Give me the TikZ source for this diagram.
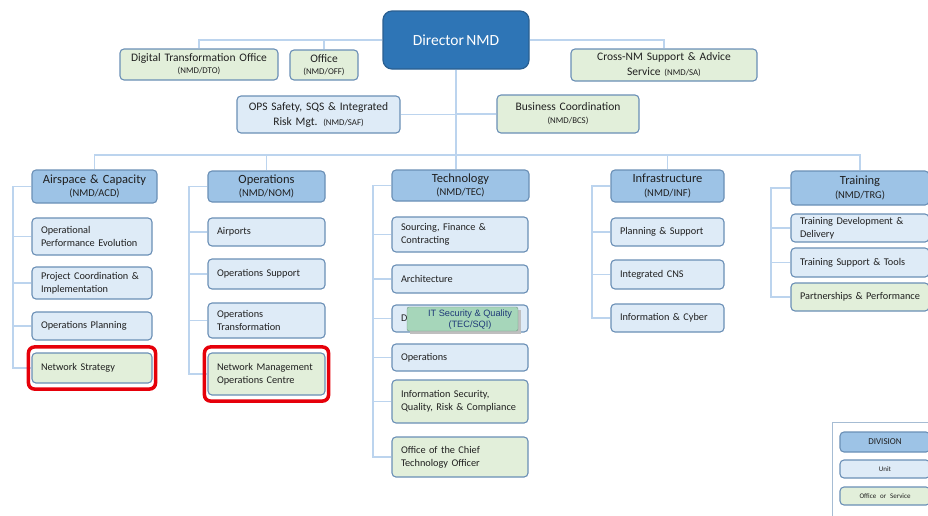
\documentclass[tikz,border=0pt]{standalone}
\usepackage{fontspec}
\setmainfont{Carlito}[WordSpace=0.7]
\newfontfamily\arialfont{Liberation Sans}
\usetikzlibrary{fit,backgrounds}

\definecolor{dirfill}{HTML}{2E75B6}
\definecolor{dirline}{HTML}{2A5F91}
\definecolor{divfill}{HTML}{9DC3E6}
\definecolor{unitfill}{HTML}{DEEBF7}
\definecolor{offfill}{HTML}{E2EFDA}
\definecolor{boxline}{HTML}{6A8FB6}
\definecolor{connline}{HTML}{BCD4EE}
\definecolor{hilite}{HTML}{E6000A}
\definecolor{sqifill}{HTML}{A6D6BA}
\definecolor{sqitext}{HTML}{1F3A78}
\definecolor{txt}{HTML}{202020}

% box from corner (x1,y1) to (x2,y2), in pixel-like units, y downwards
\newcommand\orgbox[7]{%
  \pgfmathsetmacro\obW{#5-#3}%
  \pgfmathsetmacro\obH{#6-#4}%
  \pgfmathsetmacro\obX{(#3+#5)/2}%
  \pgfmathsetmacro\obY{-(#4+#6)/2}%
  \pgfmathsetmacro\obT{#5-#3-18}%
  \node[#2, minimum width=\obW pt, minimum height=\obH pt, text width=\obT pt]
    (#1) at (\obX pt,\obY pt) {#7};}

\newcommand\subt[1]{{\fontsize{8.8}{10}\selectfont #1}}
\newcommand\divsub[1]{{\fontsize{10.5}{11.5}\selectfont #1}}

\tikzset{
  base/.style={draw=boxline, line width=1.1pt, rounded corners=4pt,
    inner sep=0pt, text=txt},
  division/.style={base, fill=divfill, align=center,
    font=\fontsize{12.5}{13.5}\selectfont},
  unit/.style={base, fill=unitfill, align=left,
    font=\fontsize{10.3}{13.3}\selectfont},
  officebox/.style={base, fill=offfill, align=left,
    font=\fontsize{10.3}{13.3}\selectfont},
  unitc/.style={unit, align=center, font=\fontsize{11.5}{15}\selectfont},
  officec/.style={officebox, align=center, font=\fontsize{11.5}{15}\selectfont},
  conn/.style={draw=connline, line width=1.6pt},
  hl/.style={draw=hilite, line width=3.5pt, rounded corners=6pt,
    inner xsep=3pt, inner ysep=5.5pt},
}

\begin{document}
\begin{tikzpicture}[x=1pt, y=1pt]
\useasboundingbox (0,0) rectangle (928,-515);

% ---------- director and staff offices ----------
\node[draw=dirline, fill=dirfill, line width=1.2pt, rounded corners=9pt,
  minimum width=146pt, minimum height=58pt, text=white,
  font=\fontsize{15.5}{17}\selectfont] (dir) at (456,-40) {Director NMD};

\orgbox{dto}{officec}{120}{49}{278}{80}{Digital Transformation Office\\[-3pt]\subt{(NMD/DTO)}}
\orgbox{off}{officec}{290}{50}{358}{80}{Office\\[-3pt]\subt{(NMD/OFF)}}
\orgbox{sa}{officec}{571}{49}{757}{81}{Cross-NM Support \& Advice\\Service \subt{(NMD/SA)}}
\orgbox{saf}{unitc}{237}{96}{400}{133}{OPS Safety, SQS \& Integrated\\Risk Mgt. \subt{(NMD/SAF)}}
\orgbox{bcs}{officec}{497}{95}{639}{133}{Business Coordination\\[-2pt]\subt{(NMD/BCS)}}

% ---------- divisions ----------
\orgbox{acd}{division}{32}{170}{157}{203}{Airspace \& Capacity\\\divsub{(NMD/ACD)}}
\orgbox{nom}{division}{208}{171}{325}{202}{Operations\\\divsub{(NMD/NOM)}}
\orgbox{tec}{division}{392}{170}{529}{201}{Technology\\\divsub{(NMD/TEC)}}
\orgbox{inf}{division}{611}{170}{724}{202}{Infrastructure\\\divsub{(NMD/INF)}}
\orgbox{trg}{division}{791}{171}{929}{205}{Training\\\divsub{(NMD/TRG)}}

% ---------- units: Airspace & Capacity ----------
\orgbox{acd1}{unit}{32}{218}{152}{255}{Operational\\Performance Evolution}
\orgbox{acd2}{unit}{32}{267}{152}{299}{Project Coordination \&\\Implementation}
\orgbox{acd3}{unit}{32}{312}{152}{340}{Operations Planning}
\orgbox{acd4}{officebox}{32}{353}{152}{383}{Network Strategy}

% ---------- units: Operations ----------
\orgbox{nom1}{unit}{208}{218}{325}{246}{Airports}
\orgbox{nom2}{unit}{208}{259}{325}{289}{Operations Support}
\orgbox{nom3}{unit}{208}{303}{325}{338}{Operations\\Transformation}
\orgbox{nom4}{officebox}{208}{353}{325}{395}{Network Management\\Operations Centre}

% ---------- units: Technology ----------
\orgbox{tec1}{unit}{392}{217}{528}{252}{Sourcing, Finance \&\\Contracting}
\orgbox{tec2}{unit}{392}{265}{528}{293}{Architecture}
\orgbox{tec3}{unit}{392}{305}{528}{332}{D}
\orgbox{tec4}{unit}{392}{344}{528}{371}{Operations}
\orgbox{tec5}{officebox}{392}{380}{528}{423}{Information Security,\\Quality, Risk \& Compliance}
\orgbox{tec6}{officebox}{392}{437}{528}{477}{Office of the Chief\\Technology Officer}

% pasted label over the third Technology unit
\fill[black!25] (410,-310) rectangle (521,-334);
\node[fill=sqifill, draw=sqifill!70!black, line width=0.4pt, rounded corners=2pt,
  minimum width=111pt, minimum height=24pt, inner sep=0pt] (sqi) at (462.5,-319) {};
\node[text=sqitext, align=center, inner sep=0pt,
  font=\arialfont\fontsize{9.2}{10.5}\selectfont] (sqil) at (470,-319.5)
  {IT Security \& Quality\\(TEC/SQI)};

% ---------- units: Infrastructure ----------
\orgbox{inf1}{unit}{611}{218}{724}{246}{Planning \& Support}
\orgbox{inf2}{unit}{611}{260}{724}{289}{Integrated CNS}
\orgbox{inf3}{unit}{611}{304}{724}{332}{Information \& Cyber}

% ---------- units: Training ----------
\orgbox{trg1}{unit}{791}{214}{929}{242}{Training Development \&\\Delivery}
\orgbox{trg2}{unit}{791}{248}{929}{277}{Training Support \& Tools}
\orgbox{trg3}{officebox}{791}{283}{929}{311}{Partnerships \& Performance}

% ---------- highlights ----------
\node[hl, fit=(acd4)] (hl1) {};
\node[hl, fit=(nom4)] (hl2) {};

% ---------- legend ----------
\node[draw=boxline!60, line width=1pt, minimum width=110pt, minimum height=100pt,
  inner sep=0pt] (leg) at (887,-472) {};
\orgbox{legdiv}{division}{840}{432}{930}{452}{\fontsize{9}{10}\selectfont DIVISION}
\orgbox{legunit}{unitc}{840}{460}{930}{478}{\fontsize{7}{8}\selectfont Unit}
\orgbox{legoff}{officec}{840}{487}{930}{505}{\fontsize{7}{8}\selectfont Office or Service}

% ---------- connectors (behind the boxes) ----------
\coordinate (bus) at (0,-155);
\coordinate (railacd) at (13,0);
\coordinate (railnom) at (189,0);
\coordinate (railtec) at (373,0);
\coordinate (railinf) at (592,0);
\coordinate (railtrg) at (771,0);
\begin{scope}[on background layer]
  \fill[white] (0,0) rectangle (928,-515);
  % staff offices on the director's line
  \draw[conn] (dto.north) |- (dir.west);
  \draw[conn] (off.north) -- (off.north |- dir.west);
  \draw[conn] (sa.north) |- (dir.east);
  \draw[conn] (dir.south) -- (dir.south |- tec.north);
  \draw[conn] (saf.east) -- (saf.east -| dir.south);
  \draw[conn] (bcs.west) -- (bcs.west -| dir.south);
  % division bus
  \draw[conn] (acd.north) |- (trg.north |- bus) -- (trg.north);
  \draw[conn] (nom.north) -- (nom.north |- bus);
  \draw[conn] (inf.north) -- (inf.north |- bus);
  % unit rails
  \draw[conn] (acd.west) -| (railacd |- acd4.west) -- (acd4.west);
  \foreach \u in {acd1,acd2,acd3} \draw[conn] (\u.west) -- (railacd |- \u.west);
  \draw[conn] (nom.west) -| (railnom |- nom4.west) -- (nom4.west);
  \foreach \u in {nom1,nom2,nom3} \draw[conn] (\u.west) -- (railnom |- \u.west);
  \draw[conn] (tec.west) -| (railtec |- tec6.west) -- (tec6.west);
  \foreach \u in {tec1,tec2,tec3,tec4,tec5} \draw[conn] (\u.west) -- (railtec |- \u.west);
  \draw[conn] (inf.west) -| (railinf |- inf3.west) -- (inf3.west);
  \foreach \u in {inf1,inf2} \draw[conn] (\u.west) -- (railinf |- \u.west);
  \draw[conn] (trg.west) -| (railtrg |- trg3.west) -- (trg3.west);
  \foreach \u in {trg1,trg2} \draw[conn] (\u.west) -- (railtrg |- \u.west);
\end{scope}
\end{tikzpicture}
\end{document}
